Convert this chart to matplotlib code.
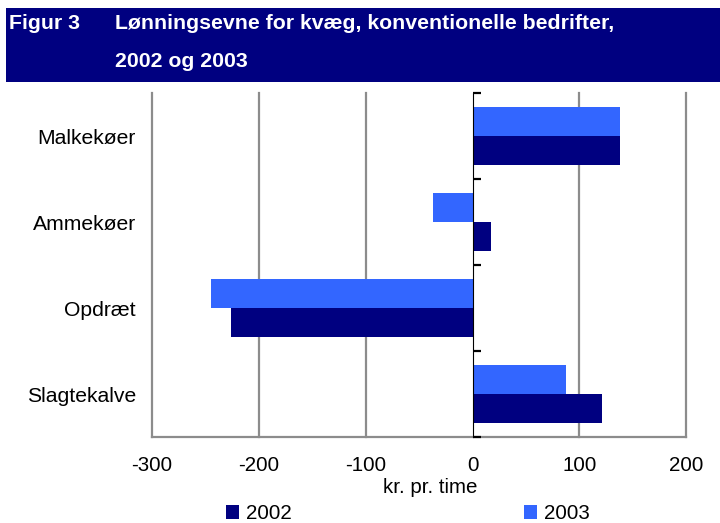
import matplotlib
matplotlib.use('Agg')
import matplotlib.pyplot as plt
from matplotlib.patches import Rectangle, Patch
import numpy as np

categories = ['Malkekøer', 'Ammekøer', 'Opdræt', 'Slagtekalve']
values_2002 = [138, 17, -226, 121]
values_2003 = [138, -37, -245, 87]
series_labels = ['2002', '2003']
x_ticks = [-300, -200, -100, 0, 100, 200]
x_tick_labels = ['-300', '-200', '-100', '0', '100', '200']
title_prefix = 'Figur 3'
title_lines = ['Lønningsevne for kvæg, konventionelle bedrifter,', '2002 og 2003']
x_label = 'kr. pr. time'

plt.rcParams['font.family'] = ['Liberation Sans', 'DejaVu Sans']

NAVY = '#000080'
BLUE = '#3366FF'
GRID = '#8c8c8c'
FS = 14.8
TFS = 15.3

W, H = 720, 523
fig = plt.figure(figsize=(7.2, 5.23), dpi=100)


def fx(px):
    return px / W


def fy(py):
    return 1 - py / H


# header band
fig.patches.append(Rectangle((fx(6), fy(82)), fx(720) - fx(6), fy(8) - fy(82),
                             transform=fig.transFigure, facecolor=NAVY,
                             edgecolor='none', zorder=0))
fig.text(fx(9), fy(29.5), title_prefix, color='white', fontsize=TFS,
         fontweight='bold', va='baseline')
fig.text(fx(115), fy(29.5), title_lines[0], color='white', fontsize=TFS,
         fontweight='bold', va='baseline')
fig.text(fx(115), fy(67), title_lines[1], color='white', fontsize=TFS,
         fontweight='bold', va='baseline')

ax = fig.add_axes([fx(152), fy(437), fx(686.3) - fx(152), fy(93) - fy(437)])
y = np.arange(len(categories))
h = 0.337
off = 0.168
ax.barh(y - off, values_2003, height=h, color=BLUE, zorder=2)
ax.barh(y + off, values_2002, height=h, color=NAVY, zorder=2)
ax.set_ylim(len(categories) - 0.5, -0.5)
ax.set_xlim(x_ticks[0], x_ticks[-1])

for t in x_ticks:
    if t != 0:
        ax.axvline(t, color=GRID, lw=1.6, zorder=1, clip_on=False)

for s in ['top', 'right', 'left']:
    ax.spines[s].set_visible(False)
ax.spines['bottom'].set_color(GRID)
ax.spines['bottom'].set_linewidth(1.6)

ax.set_xticks(x_ticks)
ax.set_xticklabels(x_tick_labels, fontsize=FS)
ax.tick_params(axis='x', length=0, pad=14)
ax.set_yticks(y)
ax.set_yticklabels(categories, fontsize=15.2)
ax.tick_params(axis='y', length=0, pad=11.5)

# category axis crossing at zero
zero_pos = (0 - x_ticks[0]) / (x_ticks[-1] - x_ticks[0])
sec = ax.secondary_yaxis(zero_pos)
sec.set_yticks(np.arange(len(categories) + 1) - 0.5)
sec.tick_params(direction='out', length=6, width=1.6, color='black',
                labelleft=False, labelright=False, left=False, right=True)
sec.spines['left'].set_color('black')
sec.spines['left'].set_linewidth(1.6)
sec.set_zorder(5)

fig.text(fx(430.5), fy(493), x_label, fontsize=FS, ha='center', va='baseline')

handles = [Patch(facecolor=NAVY, label=series_labels[0]),
           Patch(facecolor=BLUE, label=series_labels[1])]
fig.legend(handles=handles, ncol=2, loc='lower left',
           bbox_to_anchor=(fx(226), fy(523)), frameon=False, borderpad=0,
           borderaxespad=0, handlelength=0.634, handleheight=0.634,
           handletextpad=0.34, columnspacing=11.3, fontsize=FS)

fig.savefig('out.png', dpi=100)
